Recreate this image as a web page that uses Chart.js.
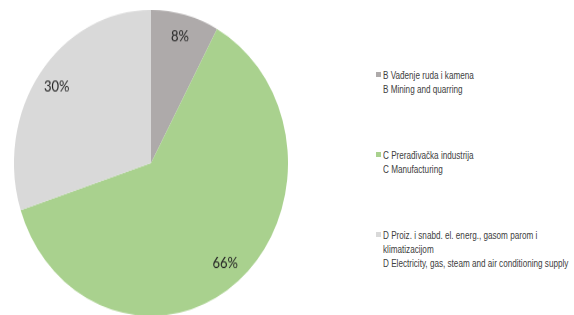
<!DOCTYPE html>
<html>
<head>
<meta charset="utf-8">
<script src="https://cdn.jsdelivr.net/npm/chart.js@4"></script>
<style>
    html, body { margin: 0; padding: 0; background: #fff; }
    body { width: 574px; height: 315px; position: relative; overflow: hidden; }
    /* the reference pie is an ellipse, so the square chart is stretched vertically */
    #pieWrap { position: absolute; left: 14px; top: 10px; width: 274px; height: 274px; transform: scaleY(1.117); transform-origin: 0 0; }
    .legend-item { position: absolute; left: 376px; font-family: 'Liberation Sans', Arial, sans-serif; font-size: 11px; line-height: 14px; color: #404040; white-space: nowrap; }
    .legend-item .box { position: absolute; left: 0; top: 4px; width: 5px; height: 5px; }
    .legend-item .txt { margin-left: 7px; transform: scaleX(0.74); transform-origin: 0 0; }
</style>
</head>
<body>
<div id="pieWrap"><canvas id="pieChart" width="274" height="274"></canvas></div>
<div id="legend"></div>
<script>
// sectors (serbian / english)
const labelsSr = ['B Vađenje ruda i kamena', 'C Prerađivačka industrija', 'D Proiz. i snabd. el. energ., gasom parom i<br>klimatizacijom'];
const labelsEn = ['B Mining and quarring', 'C Manufacturing', 'D Electricity, gas, steam and air conditioning supply'];
const shares = [8, 62, 30];
const shareText = ['8%', '66%', '30%'];
const colors = ['#AEAAAA', '#A9D18E', '#D9D9D9'];

// percent labels inside the slices
const sliceLabels = {
    id: 'sliceLabels',
    afterDatasetsDraw(chart) {
        const ctx = chart.ctx;
        const meta = chart.getDatasetMeta(0);
        ctx.save();
        ctx.font = '13px Lato';
        ctx.fillStyle = '#262626';
        ctx.textAlign = 'center';
        ctx.textBaseline = 'middle';
        meta.data.forEach((arc, i) => {
            const mid = (arc.startAngle + arc.endAngle) / 2;
            const r = arc.outerRadius * 0.85;
            ctx.fillText(shareText[i], arc.x + Math.cos(mid) * r, arc.y + Math.sin(mid) * r);
        });
        ctx.restore();
    }
};

new Chart(document.getElementById('pieChart').getContext('2d'), {
    type: 'pie',
    data: {
        labels: labelsEn,
        datasets: [{
            data: shares,
            backgroundColor: colors,
            borderWidth: 0,
            hoverOffset: 0
        }]
    },
    options: {
        responsive: false,
        animation: false,
        events: [],
        layout: { padding: 0 },
        plugins: {
            legend: { display: false },
            tooltip: { enabled: false }
        }
    },
    plugins: [sliceLabels]
});

// legend on the right
const legend = document.getElementById('legend');
labelsSr.forEach((l, i) => {
    const item = document.createElement('div');
    item.className = 'legend-item';
    item.style.top = (68 + i * 80) + 'px';
    item.innerHTML = '<span class="box" style="background:' + colors[i] + '"></span><div class="txt">' + l + '<br>' + labelsEn[i] + '</div>';
    legend.appendChild(item);
});
</script>
</body>
</html>
